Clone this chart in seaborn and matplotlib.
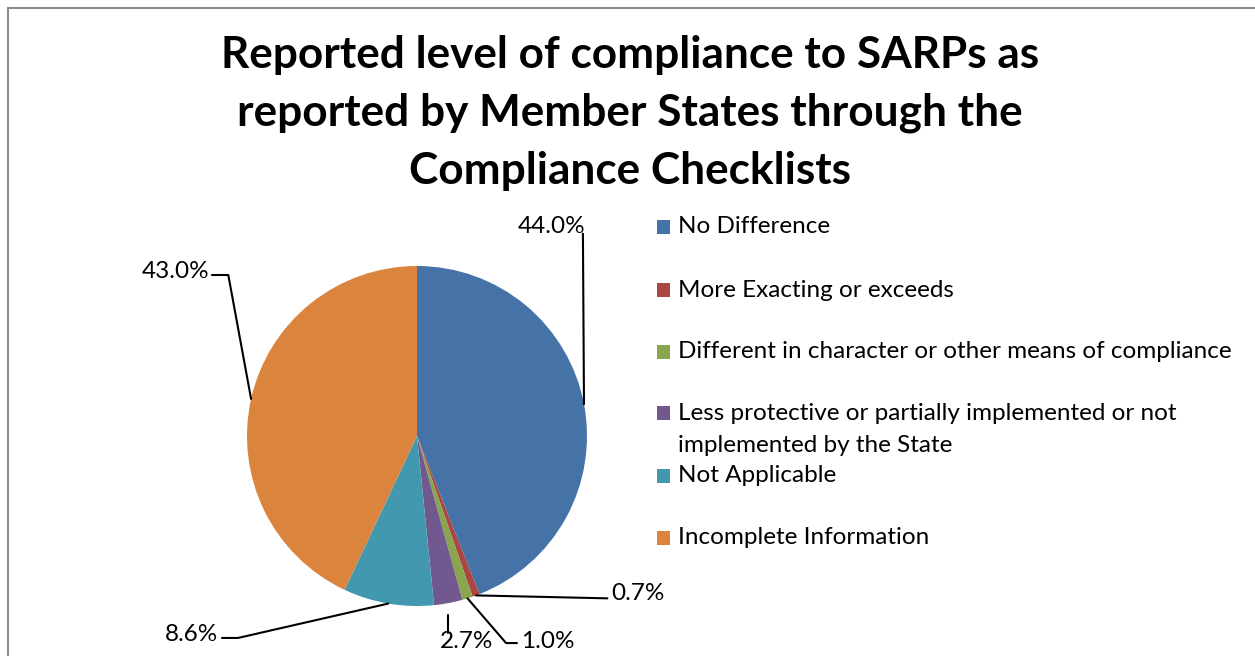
import numpy as np
import matplotlib
matplotlib.use("Agg")
import matplotlib.pyplot as plt
from matplotlib.patches import Rectangle
import seaborn as sns

# ============================================================
# DATOS
# ============================================================
categories = [
    "No Difference",
    "More Exacting or exceeds",
    "Different in character or other means of compliance",
    "Less protective or partially implemented or not\nimplemented by the State",
    "Not Applicable",
    "Incomplete Information",
]
shares = [44.0, 0.7, 1.0, 2.7, 8.6, 43.0]
colors = ["#4572A7", "#AA4643", "#89A54E", "#71588F", "#4198AF", "#DB843D"]
title = "Reported level of compliance to SARPs as\nreported by Member States through the\nCompliance Checklists"

# posiciones de etiquetas (unidades del radio) y codos de las líneas guía
label_pos = [(0.99, 1.235, "right"), (1.14, -0.924, "left"), (0.61, -1.206, "left"),
             (0.135, -1.206, "left"), (-1.17, -1.165, "right"), (-1.22, 0.965, "right")]
leader_mid = [[(0.976, 1.19)], [(1.12, -0.955)], [(0.524, -1.218), (0.588, -1.218)],
              [(0.184, -1.16)], [(-1.053, -1.188), (-1.147, -1.188)],
              [(-1.11, 0.947), (-1.206, 0.947)]]

sns.set_theme(style="white")
plt.rcParams["font.family"] = ["Lato", "DejaVu Sans"]

W, H = 1255, 656
fig = plt.figure(figsize=(W / 100, H / 100), dpi=100)

def fx(x):
    return x / W

def fy(y):
    return 1 - y / H

# marco del gráfico
fig.patches.append(Rectangle((fx(8), -0.1), 1.2, fy(8) + 0.1, transform=fig.transFigure,
                             fill=False, edgecolor="#8c8c8c", linewidth=1.5))

# ejes del pastel: centro (417, 436) px, radio 170 px
R = 170
cx, cy = 417, 436
ax = fig.add_axes([fx(cx - 2 * R), fy(cy + 1.3 * R), 4 * R / W, 2.6 * R / H])

wedges, _ = ax.pie(shares, colors=colors, startangle=90, counterclock=False,
                   radius=1, wedgeprops=dict(linewidth=0))
ax.set_xlim(-2, 2)
ax.set_ylim(-1.3, 1.3)
ax.set_aspect("equal")
ax.axis("off")

cum = np.cumsum([0] + shares[:-1])
for i, v in enumerate(shares):
    ang = np.deg2rad(90 - (cum[i] + v / 2) * 3.6)
    pts = [(np.cos(ang), np.sin(ang))] + leader_mid[i]
    if i == 3:
        # la guía de 2.7% empieza separada del borde
        pts[0] = (leader_mid[i][0][0], -1.053)
    xs, ys = zip(*pts)
    ax.plot(xs, ys, color="black", linewidth=1.5, clip_on=False)
    tx, ty, ha = label_pos[i]
    ax.text(tx, ty, f"{v:.1f}%", ha=ha, va="center", fontsize=17.5, color="black")

# título
fig.text(fx(630), fy(113), title, ha="center", va="center", fontsize=31.8,
         fontweight="bold", linespacing=1.55, color="black")

# leyenda
legend_y = [227, 290, 352, 429.5, 476, 538]
for i, lab in enumerate(categories):
    y = legend_y[i]
    sq_y = y if "\n" not in lab else 413
    fig.patches.append(Rectangle((fx(657), fy(sq_y + 7)), 13 / W, 14 / H,
                                 transform=fig.transFigure, facecolor=colors[i],
                                 edgecolor="none"))
    fig.text(fx(678), fy(y), lab, ha="left", va="center", fontsize=17.5,
             color="black", linespacing=1.6)

fig.savefig("out.png", dpi=100)
